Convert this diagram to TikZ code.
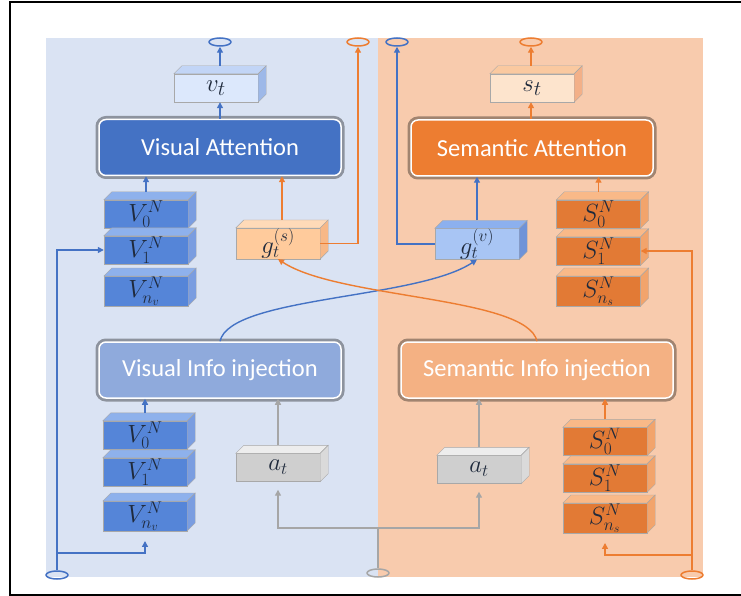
\documentclass[tikz,border=0pt]{standalone}
\usepackage{fontspec}
\setmainfont{Carlito}
\usetikzlibrary{arrows.meta,shapes.geometric}

\definecolor{panelblue}{HTML}{DAE3F3}
\definecolor{panelorange}{HTML}{F8CBAD}
\definecolor{vblue}{HTML}{4472C4}
\definecolor{vorange}{HTML}{ED7D31}
\definecolor{vgray}{HTML}{A6A6A6}
\definecolor{injblue}{HTML}{8FAADC}
\definecolor{injorange}{HTML}{F4B183}
\definecolor{boxedge}{HTML}{A8A8A8}
\definecolor{vfront}{HTML}{5585D8}
\definecolor{vtop}{HTML}{8EB1EC}
\definecolor{vside}{HTML}{7A9DE0}
\definecolor{sfront}{HTML}{E27A35}
\definecolor{stop}{HTML}{F9B988}
\definecolor{sside}{HTML}{F2A46C}
\definecolor{vtfront}{HTML}{DCE8FC}
\definecolor{vttop}{HTML}{C2D5F6}
\definecolor{vtside}{HTML}{9DB8E8}
\definecolor{stfront}{HTML}{FDE4CD}
\definecolor{sttop}{HTML}{FAC9A0}
\definecolor{stside}{HTML}{F3B088}
\definecolor{gsfront}{HTML}{FFCB9C}
\definecolor{gstop}{HTML}{FFDAB8}
\definecolor{gsside}{HTML}{F7B887}
\definecolor{gvfront}{HTML}{A8C5F4}
\definecolor{gvtop}{HTML}{8CB0EE}
\definecolor{gvside}{HTML}{6F93D8}
\definecolor{atfront}{HTML}{CFCFCF}
\definecolor{attop}{HTML}{EDEDED}
\definecolor{atside}{HTML}{DADADA}
\definecolor{mathink}{HTML}{1F2A3C}

% top and right faces of a block
\newcommand{\faces}[3]{%
  \filldraw[draw=boxedge,fill=#2] (#1.north west) -- ++(8,-8) -- ([shift={(8,-8)}]#1.north east) -- (#1.north east) -- cycle;
  \filldraw[draw=boxedge,fill=#3] (#1.north east) -- ++(8,-8) -- ([shift={(8,-8)}]#1.south east) -- (#1.south east) -- cycle;}

\begin{document}
\begin{tikzpicture}
  [x=1pt,y=-1pt,
   link/.style={line width=1.4,-{Triangle[length=6,width=6]}},
   cube/.style={draw=boxedge,fill=#1,minimum width=84,minimum height=28,inner sep=0,
     text=mathink,font=\fontsize{24}{24}\selectfont},
   big/.style={font=\fontsize{#1}{#1}\selectfont},
   attn/.style={rounded corners=7,draw=white,line width=1.5,fill=#1,text=white,
     minimum height=56,inner sep=0,font=\fontsize{24.5}{28}\selectfont,
     preaction={draw=black,draw opacity=0.35,line width=7}},
   port/.style={ellipse,draw=#1,line width=1.5,minimum width=22,minimum height=8,inner sep=0}]
  \useasboundingbox (0,0) rectangle (741,596);
  \fill[panelblue] (46,38) rectangle (378,577);
  \fill[panelorange] (378,38) rectangle (703,577);
  \draw[line width=2.5] (741,2) -- (10,2) -- (10,595) -- (741,595);

  % attention and injection blocks
  \node (va)[attn=vblue,minimum width=242] at (220,147.5) {Visual Attention};
  \node (sa)[attn=vorange,minimum width=242] at (532,148) {Semantic Attention};
  \node (vii)[attn=injblue,minimum width=242] at (220,370) {Visual Info injection};
  \node (sii)[attn=injorange,minimum width=272] at (537,370) {Semantic Info injection};

  % blocks
  \node (vt)[cube=vtfront,big=30] at (216,88) {$v_t$};
  \node (st)[cube=stfront,big=30] at (532,88) {$s_t$};
  \node (v0a)[cube=vfront] at (146,214) {$V_0^N$};
  \node (v1a)[cube=vfront] at (146,250) {$V_1^N$};
  \node (vna)[cube=vfront] at (146,291) {$V_{n_v}^N$};
  \node (gs)[cube=gsfront,big=25] at (278,243.5) {$g_t^{(s)}$};
  \node (gv)[cube=gvfront,big=25] at (477,244) {$g_t^{(v)}$};
  \node (s0a)[cube=sfront] at (598.5,214) {$S_0^N$};
  \node (s1a)[cube=sfront] at (598.5,251) {$S_1^N$};
  \node (sna)[cube=sfront] at (598.5,291) {$S_{n_s}^N$};
  \node (v0b)[cube=vfront] at (145,435) {$V_0^N$};
  \node (v1b)[cube=vfront] at (145,472) {$V_1^N$};
  \node (vnb)[cube=vfront] at (145,516) {$V_{n_v}^N$};
  \node (at1)[cube=atfront,big=26] at (278,467.5) {$a_t$};
  \node (at2)[cube=atfront,big=26] at (479,469.5) {$a_t$};
  \node (s0b)[cube=sfront] at (605,441.5) {$S_0^N$};
  \node (s1b)[cube=sfront] at (605,478) {$S_1^N$};
  \node (snb)[cube=sfront] at (605,518) {$S_{n_s}^N$};
  \foreach \n/\t/\s in {vt/vttop/vtside,st/sttop/stside,gs/gstop/gsside,gv/gvtop/gvside,
      at1/attop/atside,at2/attop/atside}
    {\faces{\n}{\t}{\s}}
  \foreach \n in {v0a,v1a,vna,v0b,v1b,vnb}
    {\faces{\n}{vtop}{vside}}
  \foreach \n in {s0a,s1a,sna,s0b,s1b,snb}
    {\faces{\n}{stop}{sside}}

  % ports
  \node (pva)[port=vblue] at (220,42) {};
  \node (pgs)[port=vorange] at (358,42) {};
  \node (pgv)[port=vblue] at (397,42) {};
  \node (pst)[port=vorange] at (531,42) {};
  \node (pvb)[port=vblue] at (57,575) {};
  \node (pg)[port=vgray] at (378,573) {};
  \node (pob)[port=vorange] at (692,575) {};
  \coordinate (vj) at (57,553);
  \coordinate (gj) at (378,528);
  \coordinate (oj) at (692,555);

  % upper half
  \draw[link,vblue] (va.north -| pva) -- (vt.south -| pva);
  \draw[link,vblue,shorten <=8] (vt.north -| pva) -- (pva);
  \draw[link,vblue,shorten <=8] (v0a.north) -- (v0a.north |- va.south);
  \draw[link,vorange,shorten <=8] ([xshift=4]gs.north) -- ([xshift=4]gs.north |- va.south);
  \draw[link,vorange] (gs.east) -| (pgs);
  \draw[link,vblue] (gv.west) -| (pgv);
  \draw[link,vblue,shorten <=8] (gv.north) -- (gv.north |- sa.south);
  \draw[link,vorange,shorten <=8] (s0a.north) -- (s0a.north |- sa.south);
  \draw[link,vorange] (sa.north -| pst) -- (st.south -| pst);
  \draw[link,vorange,shorten <=8] (st.north -| pst) -- (pst);

  % lower half
  \draw[link,vblue] (pvb) |- (v1a.west);
  \draw[link,vblue,shorten >=10] (vj) -| (vnb.south);
  \draw[link,vblue,shorten <=8] (v0b.north) -- (v0b.north |- vii.south);
  \draw[line width=1.4,vgray] (pg) -- (gj);
  \draw[link,vgray,shorten >=8] (gj) -| (at1.south);
  \draw[link,vgray,shorten >=8] (gj) -| (at2.south);
  \draw[link,vgray,shorten <=8] (at1.north) -- (at1.north |- vii.south);
  \draw[link,vgray,shorten <=8] (at2.north) -- (at2.north |- sii.south);
  \draw[link,vorange,shorten <=8] (s0b.north) -- (s0b.north |- sii.south);
  \draw[link,vorange] (pob) |- (s1a.east);
  \draw[link,vorange,shorten >=10] (oj) -| (snb.south);

  % cross links
  \draw[link,vblue] (vii.north) .. controls +(10,-45) and +(-60,40) .. (gv.south);
  \draw[link,vorange] (sii.north) .. controls +(-10,-45) and +(60,40) .. (gs.south);
\end{tikzpicture}
\end{document}
